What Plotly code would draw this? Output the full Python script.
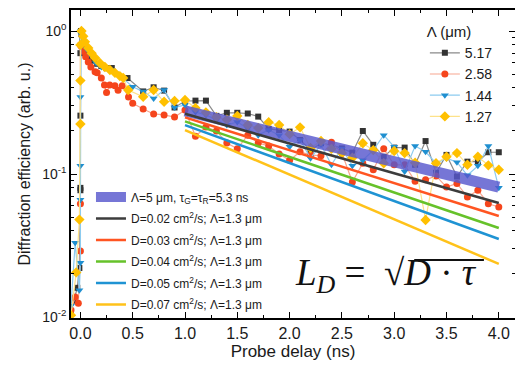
import plotly.graph_objects as go

# ---------------- data ----------------
late_t = [0.6, 0.7, 0.8, 0.9, 1.0, 1.1, 1.2, 1.3, 1.4, 1.5, 1.6, 1.7, 1.8, 1.9,
          2.0, 2.1, 2.2, 2.3, 2.4, 2.5, 2.6, 2.7, 2.8, 2.9,
          3.0, 3.1, 3.2, 3.3, 3.4, 3.5, 3.6, 3.7, 3.8, 3.9, 4.0]

t_517 = [-0.09, -0.06, -0.03, -0.01, 0.0, 0.0, 0.0, 0.0, 0.005, 0.01, 0.02, 0.04, 0.06,
         0.08, 0.1, 0.13, 0.16, 0.2, 0.25, 0.3, 0.45]
v_517 = [0.011, 0.013, 0.016, 0.022, 0.077, 0.08, 0.256, 0.70, 1.0, 0.95, 0.88, 0.80, 0.74,
         0.70, 0.66, 0.62, 0.59, 0.57, 0.55, 0.551, 0.469]
late_517 = [0.378, 0.404, 0.383, 0.292, 0.324, 0.326, 0.326, 0.255, 0.268, 0.268, 0.265,
            0.252, 0.207, 0.203, 0.198, 0.173, 0.147, 0.164, 0.160, 0.151, 0.141, 0.200,
            0.160, 0.132, 0.153, 0.153, 0.116, 0.170, 0.102, 0.136, 0.096, 0.122, 0.122,
            0.142, 0.142]

t_258 = [-0.09, -0.05, -0.02, 0.0, 0.0, 0.0, 0.01, 0.03, 0.05, 0.075, 0.1, 0.14, 0.16,
         0.2, 0.23, 0.25, 0.28, 0.33, 0.36, 0.4, 0.46, 0.5]
v_258 = [0.0112, 0.0138, 0.0125, 0.029, 0.062, 0.80, 0.78, 0.72, 0.66, 0.607, 0.56, 0.52,
         0.51, 0.469, 0.419, 0.372, 0.419, 0.415, 0.385, 0.415, 0.345, 0.312]
late_258 = [0.285, 0.263, 0.259, 0.250, 0.280, 0.184, 0.213, 0.200, 0.165, 0.150, 0.187,
            0.165, 0.157, 0.138, 0.125, 0.143, 0.136, 0.134, 0.167, 0.140, 0.088, 0.119,
            0.107, 0.150, 0.116, 0.116, 0.089, 0.091, 0.097, 0.081, 0.086, 0.069, 0.077,
            0.062, 0.0588]

t_144 = [-0.09, -0.05, -0.01, 0.0, 0.0, 0.0, 0.0, 0.005, 0.01, 0.03, 0.06, 0.1, 0.15,
         0.2, 0.3, 0.4, 0.5]
v_144 = [0.012, 0.033, 0.0154, 0.024, 0.066, 0.114, 0.345, 1.0, 0.95, 0.85, 0.75, 0.68,
         0.597, 0.56, 0.534, 0.47, 0.408]
late_144 = [0.377, 0.338, 0.387, 0.292, 0.304, 0.271, 0.259, 0.239, 0.220, 0.231, 0.209,
            0.187, 0.203, 0.187, 0.155, 0.173, 0.129, 0.160, 0.116, 0.151, 0.114, 0.125,
            0.147, 0.187, 0.155, 0.104, 0.157, 0.143, 0.119, 0.129, 0.121, 0.098, 0.114,
            0.157, 0.080]

t_127 = [-0.09, -0.04, -0.01, 0.0, 0.0, 0.0, 0.01, 0.027, 0.043, 0.075, 0.107, 0.139,
         0.186, 0.234, 0.282, 0.33, 0.377, 0.409, 0.457]
v_127 = [0.0103, 0.0205, 0.048, 0.224, 0.45, 0.80, 1.0, 0.92, 0.84, 0.76, 0.70, 0.65,
         0.597, 0.56, 0.534, 0.51, 0.484, 0.47, 0.387]
late_127 = [0.347, 0.387, 0.32, 0.324, 0.329, 0.29, 0.27, 0.25, 0.24, 0.255, 0.22, 0.21,
            0.23, 0.22, 0.19, 0.212, 0.152, 0.17, 0.15, 0.14, 0.13, 0.164, 0.147, 0.119,
            0.145, 0.14, 0.12, 0.0477, 0.119, 0.132, 0.14, 0.116, 0.132, 0.115, 0.107]

series_names = ["5.17", "2.58", "1.44", "1.27"]

fit_t = [1.0, 4.0]
fit_main = [0.276, 0.081]
d_labels = ["0.02", "0.03", "0.04", "0.05", "0.07"]
d_lines = [[0.264, 0.0627], [0.249, 0.0509], [0.2335, 0.0419], [0.220, 0.0351], [0.203, 0.0235]]

x_tickvals = [0.0, 0.5, 1.0, 1.5, 2.0, 2.5, 3.0, 3.5, 4.0]
y_tickvals = [0.01, 0.1, 1.0]
y_ticktext = ["10<sup>-2</sup>", "10<sup>-1</sup>", "10<sup>0</sup>"]
y_minor = [m * d for d in (0.01, 0.1, 1.0) for m in range(2, 10)]

# ---------------- figure ----------------
FONT = "Liberation Sans, Arial, sans-serif"
fig = go.Figure()

styles = [
    dict(lc="#8a8a8a", mc="#333333", sym="square", size=6),
    dict(lc="#f7a58f", mc="#f5451c", sym="circle", size=7),
    dict(lc="#8ccbef", mc="#1f8fd0", sym="triangle-down", size=7),
    dict(lc="#fde28a", mc="#ffc000", sym="diamond", size=8),
]
data = [(t_517, v_517, late_517), (t_258, v_258, late_258),
        (t_144, v_144, late_144), (t_127, v_127, late_127)]

for name, st, (te, ve, vl) in zip(series_names, styles, data):
    fig.add_trace(go.Scatter(
        x=te + late_t, y=ve + vl, mode="lines+markers", name=name,
        line=dict(color=st["lc"], width=1.2),
        marker=dict(color=st["mc"], symbol=st["sym"], size=st["size"], line=dict(width=0)),
        legend="legend"))

fig.add_trace(go.Scatter(
    x=fit_t, y=fit_main, mode="lines",
    name="Λ=5 μm, τ<sub>G</sub>=τ<sub>R</sub>=5.3 ns",
    line=dict(color="rgba(88,88,205,0.82)", width=11), legend="legend2",
    legendgroup="g0"))

d_colors = ["#3c3c3c", "#ff5522", "#66c22a", "#1f93d3", "#ffc21a"]
for i, (lab, vals, c) in enumerate(zip(d_labels, d_lines, d_colors)):
    fig.add_trace(go.Scatter(
        x=fit_t, y=vals, mode="lines",
        name="D=" + lab + " cm<sup>2</sup>/s; Λ=1.3 μm",
        line=dict(color=c, width=2.5), legend="legend2", legendgroup="g%d" % (i + 1)))

fig.update_layout(
    width=515, height=367,
    margin=dict(l=71, r=0, t=10, b=49),
    paper_bgcolor="white", plot_bgcolor="white",
    font=dict(family=FONT, color="#1a1a1a"),
    showlegend=True,
    legend=dict(x=0.797, y=0.975, xanchor="left", yanchor="top",
                title=dict(text="Λ (μm)", font=dict(size=15, family=FONT)),
                font=dict(size=14, family=FONT), bgcolor="rgba(0,0,0,0)",
                itemwidth=30, tracegroupgap=0),
    legend2=dict(x=0.045, y=0.44, xanchor="left", yanchor="top",
                 font=dict(size=12, family=FONT), bgcolor="rgba(0,0,0,0)",
                 itemwidth=30, tracegroupgap=2.5),
    xaxis=dict(range=[-0.09, 4.155], tickvals=x_tickvals, tickformat=".1f",
               ticks="inside", ticklen=6, tickwidth=1.2, tickcolor="black",
               minor=dict(dtick=0.25, tick0=0, ticks="inside", ticklen=3, tickcolor="black"),
               showline=True, linecolor="black", linewidth=1.5, mirror="ticks",
               showgrid=False, zeroline=False, automargin=False,
               tickfont=dict(size=16, family=FONT),
               title=dict(text="Probe delay (ns)", font=dict(size=17, family=FONT), standoff=4)),
    yaxis=dict(type="log", range=[-2.007, 0.147], tickvals=y_tickvals, ticktext=y_ticktext,
               ticks="inside", ticklen=6, tickwidth=1.2, tickcolor="black",
               minor=dict(tickmode="array", tickvals=y_minor, ticks="inside", ticklen=3,
                          tickcolor="black"),
               showline=True, linecolor="black", linewidth=1.5, mirror="ticks",
               showgrid=False, zeroline=False, automargin=False,
               tickfont=dict(size=14, family=FONT),
               title=dict(text="Diffraction efficiency (arb. u.)",
                          font=dict(size=16, family=FONT), standoff=8)),
)

fig.add_annotation(
    xref="paper", yref="paper", x=0.5, y=0.055, xanchor="left", yanchor="bottom",
    text="<i>L</i><sub><i>D</i></sub> =  √<i>D</i> · <i>τ</i>",
    showarrow=False, font=dict(size=37, family="Liberation Serif, DejaVu Serif, serif",
                                color="#111"))
fig.add_shape(type="line", xref="paper", yref="paper", x0=0.773, x1=0.93, y0=0.188,
              y1=0.188, line=dict(color="#111", width=2))

fig.write_html("out.html", config={"displayModeBar": False},
               post_script="document.body.style.margin='0';"
                           "document.body.style.overflow='hidden';")
